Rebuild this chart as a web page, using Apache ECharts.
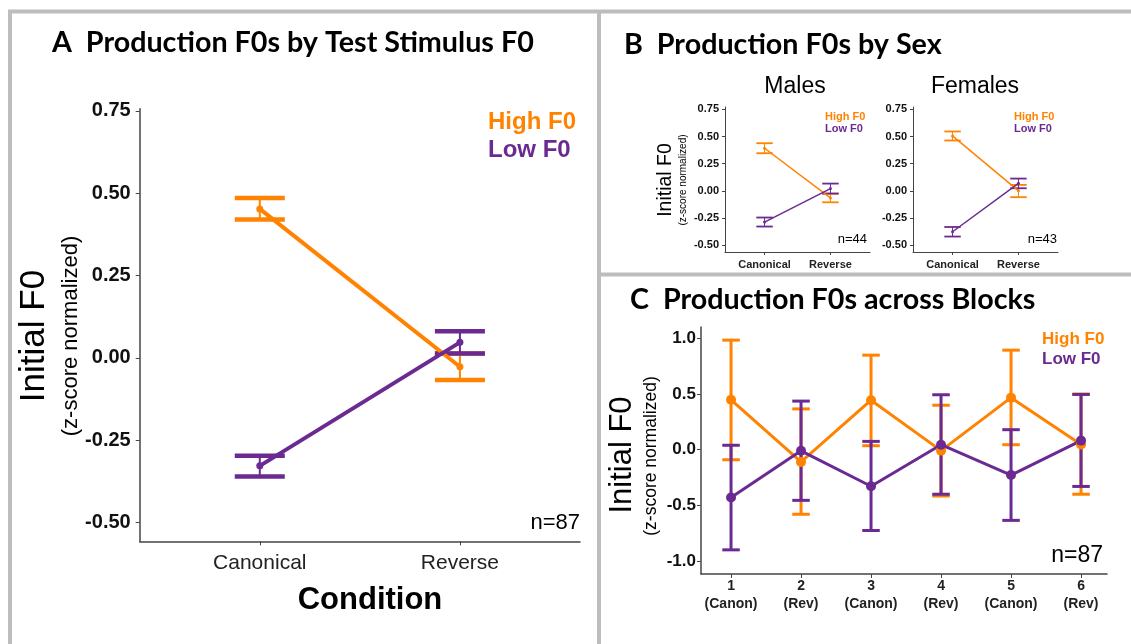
<!DOCTYPE html>
<html>
<head>
<meta charset="utf-8">
<script src="https://cdn.jsdelivr.net/npm/echarts@6/dist/echarts.min.js"></script>
<style>
  html, body { margin: 0; padding: 0; background: #fff; }
  #chart { width: 1131px; height: 644px; }
</style>
</head>
<body>
<div id="chart"></div>
<script>
// categories
const conditions = ['Canonical', 'Reverse'];
const condX = [1, 2];
const blockNums = ['1', '2', '3', '4', '5', '6'];
const blockConds = ['(Canon)', '(Rev)', '(Canon)', '(Rev)', '(Canon)', '(Rev)'];
const blockX = [1, 2, 3, 4, 5, 6];

// A: all speakers
const aHighMean = [0.452, -0.027];
const aHighLo = [0.420, -0.067];
const aHighHi = [0.485, 0.013];
const aLowMean = [-0.328, 0.047];
const aLowLo = [-0.360, 0.013];
const aLowHi = [-0.297, 0.081];

// B: males
const mHighMean = [0.392, -0.065];
const mHighLo = [0.346, -0.105];
const mHighHi = [0.438, -0.025];
const mLowMean = [-0.287, 0.021];
const mLowLo = [-0.328, -0.025];
const mLowHi = [-0.245, 0.067];

// B: females
const fHighMean = [0.505, 0.0];
const fHighLo = [0.463, -0.058];
const fHighHi = [0.546, 0.055];
const fLowMean = [-0.376, 0.069];
const fLowLo = [-0.420, 0.024];
const fLowHi = [-0.332, 0.113];

// C: blocks
const cHighMean = [0.449, -0.110, 0.445, -0.008, 0.468, 0.048];
const cHighLo = [-0.090, -0.580, 0.036, -0.416, 0.045, -0.400];
const cHighHi = [0.985, 0.367, 0.850, 0.400, 0.895, 0.500];
const cLowMean = [-0.430, -0.010, -0.328, 0.045, -0.228, 0.082];
const cLowLo = [-0.900, -0.455, -0.726, -0.400, -0.635, -0.330];
const cLowHi = [0.040, 0.437, 0.075, 0.494, 0.180, 0.497];

const yTicksAB = [-0.5, -0.25, 0, 0.25, 0.5, 0.75];
const yTicksC = [-1, -0.5, 0, 0.5, 1];

const ORANGE = '#FF8200';
const PURPLE = '#6A2A91';
const SANS = 'Liberation Sans';
const TITLE_FONT = 'Lato';

const zip2 = (xs, ys) => xs.map((x, i) => [x, ys[i]]);
const zip3 = (xs, lo, hi) => xs.map((x, i) => [x, lo[i], hi[i]]);

function errorBars(color, barW, capW, halfCap) {
  return function (params, api) {
    const x = api.value(0), lo = api.value(1), hi = api.value(2);
    const top = api.coord([x, hi]);
    const bot = api.coord([x, lo]);
    const l = api.coord([x - halfCap, hi])[0];
    const r = api.coord([x + halfCap, hi])[0];
    return {
      type: 'group',
      children: [
        { type: 'line', shape: { x1: top[0], y1: top[1], x2: bot[0], y2: bot[1] }, style: { stroke: color, lineWidth: barW } },
        { type: 'line', shape: { x1: l, y1: top[1], x2: r, y2: top[1] }, style: { stroke: color, lineWidth: capW } },
        { type: 'line', shape: { x1: l, y1: bot[1], x2: r, y2: bot[1] }, style: { stroke: color, lineWidth: capW } }
      ]
    };
  };
}

function barSeries(idx, color, data, barW, capW) {
  return {
    type: 'custom', xAxisIndex: idx, yAxisIndex: idx,
    renderItem: errorBars(color, barW, capW, 0.125),
    encode: { x: 0, y: [1, 2] },
    data: data, silent: true
  };
}

function lineSeries(idx, color, data, width, size) {
  return {
    type: 'line', xAxisIndex: idx, yAxisIndex: idx,
    data: data, symbol: 'circle', symbolSize: size,
    lineStyle: { color: color, width: width },
    itemStyle: { color: color },
    silent: true
  };
}

function xAxisDef(idx, min, max, ticks, fmt, font, margin, tickLen, lineW, weight) {
  return {
    type: 'value', gridIndex: idx, min: min, max: max,
    axisLine: { onZero: false, lineStyle: { color: '#444', width: lineW } },
    axisTick: { customValues: ticks, length: tickLen, lineStyle: { color: '#444' } },
    axisLabel: { customValues: ticks, formatter: fmt, fontSize: font, fontFamily: SANS,
      fontWeight: weight, color: '#222', margin: margin, lineHeight: font + 4 },
    splitLine: { show: false }
  };
}

function yAxisDef(idx, min, max, ticks, digits, font, margin, tickLen, lineW) {
  return {
    type: 'value', gridIndex: idx, min: min, max: max,
    axisLine: { show: true, lineStyle: { color: '#444', width: lineW } },
    axisTick: { show: true, customValues: ticks, length: tickLen, lineStyle: { color: '#444' } },
    axisLabel: { customValues: ticks, formatter: v => v.toFixed(digits), fontSize: font,
      fontFamily: SANS, fontWeight: 'bold', color: '#111', margin: margin },
    splitLine: { show: false }
  };
}

function txt(x, y, text, size, opts) {
  opts = opts || {};
  return {
    type: 'text', x: x, y: y, rotation: opts.rot || 0, silent: true,
    style: {
      text: text, fontSize: size, fontFamily: opts.font || SANS,
      fontWeight: opts.bold ? 'bold' : 'normal', fill: opts.color || '#000',
      align: opts.align || 'left', verticalAlign: 'middle'
    }
  };
}

function border(x1, y1, x2, y2) {
  return { type: 'line', silent: true, shape: { x1, y1, x2, y2 }, style: { stroke: '#BDBDBD', lineWidth: 4 } };
}

const condFmt = v => conditions[condX.indexOf(Math.round(v))];
const blockFmt = v => {
  const i = blockX.indexOf(Math.round(v));
  return blockNums[i] + '\n' + blockConds[i];
};

const chart = echarts.init(document.getElementById('chart'));
chart.setOption({
  animation: false,
  backgroundColor: '#fff',
  grid: [
    { left: 139.7, top: 108.8, width: 440.3, height: 432.5 },
    { left: 725, top: 107, width: 145, height: 145 },
    { left: 913, top: 107, width: 145, height: 145 },
    { left: 701, top: 327, width: 406, height: 247 }
  ],
  xAxis: [
    xAxisDef(0, 0.4, 2.6, condX, condFmt, 21, 9, 4, 1.5, 'normal'),
    xAxisDef(1, 0.4, 2.6, condX, condFmt, 11, 5, 3, 1, 'bold'),
    xAxisDef(2, 0.4, 2.6, condX, condFmt, 11, 5, 3, 1, 'bold'),
    xAxisDef(3, 0.571, 6.371, blockX, blockFmt, 14, 3, 4, 1.5, 'bold')
  ],
  yAxis: [
    yAxisDef(0, -0.557, 0.756, yTicksAB, 2, 20, 9, 4, 1.5),
    yAxisDef(1, -0.562, 0.771, yTicksAB, 2, 11, 6, 3, 1),
    yAxisDef(2, -0.562, 0.771, yTicksAB, 2, 11, 6, 3, 1),
    yAxisDef(3, -1.117, 1.103, yTicksC, 1, 17, 5, 4, 1.5)
  ],
  series: [
    barSeries(0, ORANGE, zip3(condX, aHighLo, aHighHi), 2, 4.5),
    barSeries(0, PURPLE, zip3(condX, aLowLo, aLowHi), 2, 4.5),
    lineSeries(0, ORANGE, zip2(condX, aHighMean), 4, 7),
    lineSeries(0, PURPLE, zip2(condX, aLowMean), 4, 7),

    barSeries(1, ORANGE, zip3(condX, mHighLo, mHighHi), 1, 1.8),
    barSeries(1, PURPLE, zip3(condX, mLowLo, mLowHi), 1, 1.8),
    lineSeries(1, ORANGE, zip2(condX, mHighMean), 1.5, 3),
    lineSeries(1, PURPLE, zip2(condX, mLowMean), 1.5, 3),

    barSeries(2, ORANGE, zip3(condX, fHighLo, fHighHi), 1, 1.8),
    barSeries(2, PURPLE, zip3(condX, fLowLo, fLowHi), 1, 1.8),
    lineSeries(2, ORANGE, zip2(condX, fHighMean), 1.5, 3),
    lineSeries(2, PURPLE, zip2(condX, fLowMean), 1.5, 3),

    barSeries(3, ORANGE, zip3(blockX, cHighLo, cHighHi), 3, 3),
    barSeries(3, PURPLE, zip3(blockX, cLowLo, cLowHi), 3, 3),
    lineSeries(3, ORANGE, zip2(blockX, cHighMean), 3, 10),
    lineSeries(3, PURPLE, zip2(blockX, cLowMean), 3, 10)
  ],
  graphic: [
    // panel frames
    border(8, 11.5, 1131, 11.5),
    border(10, 10, 10, 644),
    border(599, 10, 599, 644),
    border(599, 274.5, 1131, 274.5),

    // panel titles
    txt(52, 43, 'A  Production F0s by Test Stimulus F0', 28.7, { bold: true, font: TITLE_FONT }),
    txt(624, 45, 'B  Production F0s by Sex', 28.7, { bold: true, font: TITLE_FONT }),
    txt(630, 300, 'C  Production F0s across Blocks', 28.7, { bold: true, font: TITLE_FONT }),
    txt(795, 87, 'Males', 23, { align: 'center' }),
    txt(975, 87, 'Females', 23, { align: 'center' }),

    // y titles
    txt(34, 336, 'Initial F0', 35, { align: 'center', rot: Math.PI / 2 }),
    txt(71, 336, '(z-score normalized)', 22, { align: 'center', rot: Math.PI / 2 }),
    txt(666, 180, 'Initial F0', 19.5, { align: 'center', rot: Math.PI / 2 }),
    txt(683, 180, '(z-score normalized)', 10, { align: 'center', rot: Math.PI / 2 }),
    txt(622, 455, 'Initial F0', 31, { align: 'center', rot: Math.PI / 2 }),
    txt(651, 456, '(z-score normalized)', 17.5, { align: 'center', rot: Math.PI / 2 }),

    // x title A
    txt(370, 600, 'Condition', 31, { align: 'center', bold: true }),

    // legends
    txt(488, 122, 'High F0', 24, { bold: true, color: ORANGE }),
    txt(488, 150, 'Low F0', 24, { bold: true, color: PURPLE }),
    txt(825, 117, 'High F0', 11, { bold: true, color: ORANGE }),
    txt(825, 129, 'Low F0', 11, { bold: true, color: PURPLE }),
    txt(1014, 117, 'High F0', 11, { bold: true, color: ORANGE }),
    txt(1014, 129, 'Low F0', 11, { bold: true, color: PURPLE }),
    txt(1042, 339, 'High F0', 17, { bold: true, color: ORANGE }),
    txt(1042, 359, 'Low F0', 17, { bold: true, color: PURPLE }),

    // sample sizes
    txt(580, 523, 'n=87', 22, { align: 'right' }),
    txt(867, 239, 'n=44', 13, { align: 'right' }),
    txt(1057, 239, 'n=43', 13, { align: 'right' }),
    txt(1103, 556, 'n=87', 23, { align: 'right' })
  ]
});
</script>
</body>
</html>
